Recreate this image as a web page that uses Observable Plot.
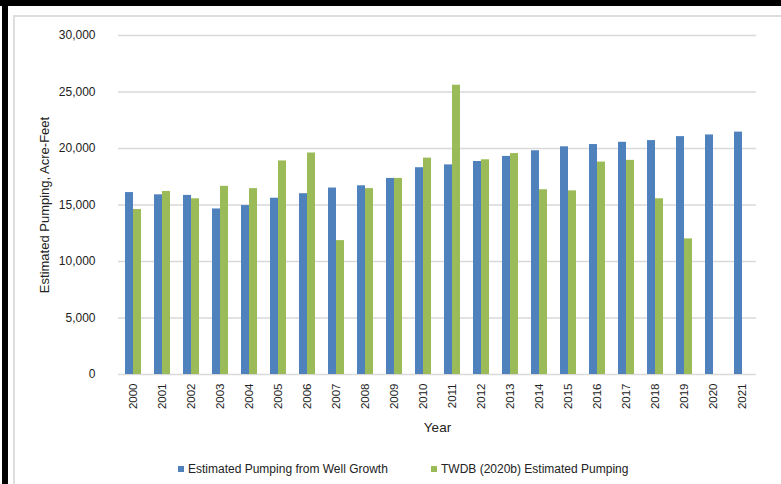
<!DOCTYPE html>
<html>
<head>
<meta charset="utf-8">
<script src="https://cdn.jsdelivr.net/npm/d3@7"></script>
<script src="https://cdn.jsdelivr.net/npm/@observablehq/plot@0.6"></script>
<style>
  html, body { margin: 0; padding: 0; background: #fff; }
  #wrap { position: relative; width: 781px; height: 484px; overflow: hidden; background: #fff; font-family: "Liberation Sans", Arial, sans-serif; }
  #chart { position: absolute; left: 0; top: 0; }
  .bar-top { position: absolute; left: 0; top: 0; width: 781px; height: 6px; background: #000; z-index: 5; }
  .bar-left { position: absolute; left: 2px; top: 0; width: 6px; height: 484px; background: #000; z-index: 5; }
  .frame { position: absolute; left: 13px; top: 15px; width: 800px; height: 500px; border-left: 2px solid #dedede; border-top: 2px solid #dedede; z-index: 1; }
  #legend { position: absolute; top: 462px; left: 0; width: 781px; height: 16px; z-index: 3; font-size: 12px; color: #222; }
  .item { position: absolute; top: 0; display: flex; align-items: center; white-space: nowrap; }
  .sw { width: 6px; height: 6px; margin-right: 4px; }
</style>
</head>
<body>
<div id="wrap">
  <div class="frame"></div>
  <div id="chart"></div>
  <div id="legend"></div>
  <div class="bar-top"></div>
  <div class="bar-left"></div>
</div>
<script>
const years = ["2000","2001","2002","2003","2004","2005","2006","2007","2008","2009","2010","2011","2012","2013","2014","2015","2016","2017","2018","2019","2020","2021"];
const seriesNames = ["Estimated Pumping from Well Growth", "TWDB (2020b) Estimated Pumping"];
const wellGrowth = [16100,15900,15850,14650,14950,15600,16000,16500,16700,17350,18300,18550,18850,19300,19800,20150,20350,20550,20700,21050,21200,21450];
const twdb = [14600,16200,15550,16650,16450,18900,19600,11850,16450,17350,19150,25600,19000,19550,16350,16250,18800,18950,15550,12000,null,null];
const yTicks = [0,5000,10000,15000,20000,25000,30000];
const colors = ["#4f81bd", "#9bbb59"];

const rows = [];
years.forEach((yr, i) => {
  rows.push({year: yr, series: seriesNames[0], value: wellGrowth[i]});
  if (twdb[i] != null) rows.push({year: yr, series: seriesNames[1], value: twdb[i]});
});

const chart = Plot.plot({
  width: 781,
  height: 440,
  marginLeft: 108,
  marginRight: 15,
  marginTop: 35,
  marginBottom: 66,
  style: {background: "transparent", fontFamily: "'Liberation Sans', Arial, sans-serif", fontSize: "12px", color: "#222"},
  fx: {domain: years, padding: 0},
  x: {domain: seriesNames, paddingInner: 0, paddingOuter: 0.76, axis: null},
  y: {domain: [0, 30000]},
  color: {domain: seriesNames, range: colors},
  marks: [
    Plot.gridY(yTicks, {stroke: "#d9d9d9", strokeOpacity: 1, strokeWidth: 1.5}),
    Plot.axisY({ticks: yTicks, tickSize: 0, tickPadding: 23, tickFormat: d3.format(","), fontSize: 12, label: null}),
    Plot.axisY({ticks: [], tickSize: 0, fontSize: 13,
      label: "Estimated Pumping, Acre-Feet", labelAnchor: "center", labelOffset: 79, labelArrow: "none"}),
    Plot.axisFx({anchor: "bottom", tickRotate: -90, tickSize: 0, tickPadding: 9, fontSize: 11.5, label: null}),
    Plot.axisFx({anchor: "bottom", ticks: [], tickSize: 0, fontSize: 13.5,
      label: "Year", labelAnchor: "center", labelOffset: 57, labelArrow: "none"}),
    Plot.barY(rows, {fx: "year", x: "series", y: "value", fill: "series"})
  ]
});
document.getElementById("chart").appendChild(chart);

const legend = document.getElementById("legend");
const pos = [178, 431];
seriesNames.forEach((name, i) => {
  const it = document.createElement("div");
  it.className = "item";
  it.style.left = pos[i] + "px";
  const sw = document.createElement("span");
  sw.className = "sw";
  sw.style.background = colors[i];
  const tx = document.createElement("span");
  tx.textContent = name;
  it.appendChild(sw); it.appendChild(tx);
  legend.appendChild(it);
});
</script>
</body>
</html>
